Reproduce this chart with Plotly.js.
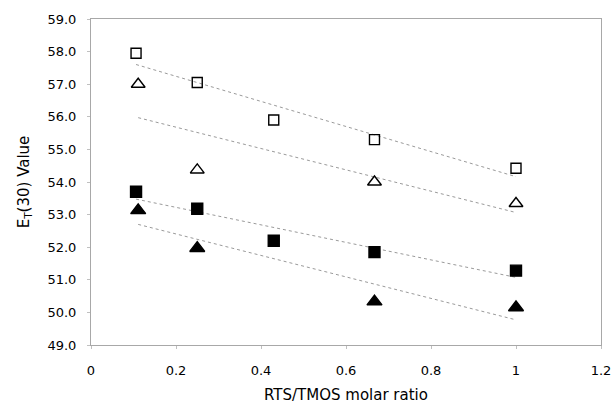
<!DOCTYPE html>
<html>
<head>
<meta charset="utf-8">
<script src="https://cdn.plot.ly/plotly-3.0.1.min.js"></script>
<style>html,body{margin:0;padding:0;background:#fff;}#chart{width:611px;height:406px;}</style>
</head>
<body>
<div id="chart"></div>
<script>
// Data
var xOpenSq = [0.106, 0.25, 0.43, 0.667, 1.0];
var yOpenSq = [57.95, 57.05, 55.9, 55.3, 54.42];
var xOpenTri = [0.111, 0.25, 0.667, 1.0];
var yOpenTri = [57.0, 54.37, 54.0, 53.34];
var xFillSq = [0.106, 0.25, 0.43, 0.667, 1.0];
var yFillSq = [53.7, 53.18, 52.2, 51.85, 51.28];
var xFillTri = [0.111, 0.25, 0.667, 1.0];
var yFillTri = [53.13, 51.97, 50.33, 50.15];
var xTickVals = [0, 0.2, 0.4, 0.6, 0.8, 1.0, 1.2];
var xTickText = ['0', '0.2', '0.4', '0.6', '0.8', '1', '1.2'];

// Linear least-squares trendline (as Excel's linear trendline)
function trend(xs, ys) {
  var n = xs.length, mx = 0, my = 0;
  for (var i = 0; i < n; i++) { mx += xs[i]; my += ys[i]; }
  mx /= n; my /= n;
  var sxx = 0, sxy = 0;
  for (var j = 0; j < n; j++) { sxx += (xs[j]-mx)*(xs[j]-mx); sxy += (xs[j]-mx)*(ys[j]-my); }
  var b = sxy / sxx, a = my - b*mx;
  var x0 = Math.min.apply(null, xs), x1 = Math.max.apply(null, xs);
  return {x: [x0, x1], y: [a + b*x0, a + b*x1]};
}

function trendTrace(xs, ys) {
  var t = trend(xs, ys);
  return {x: t.x, y: t.y, mode: 'lines', type: 'scatter', hoverinfo: 'skip',
          line: {color: '#9a9a9a', width: 1, dash: 'dot'}, showlegend: false};
}

function markTrace(xs, ys, symbol, size) {
  return {x: xs, y: ys, mode: 'markers', type: 'scatter', showlegend: false,
          marker: {symbol: symbol, size: size, color: '#000',
                   line: {color: '#000', width: 1.4}}};
}

var data = [
  trendTrace(xOpenSq, yOpenSq),
  trendTrace(xOpenTri, yOpenTri),
  trendTrace(xFillSq, yFillSq),
  trendTrace(xFillTri, yFillTri),
  markTrace(xOpenSq, yOpenSq, 'square-open', 10),
  markTrace(xOpenTri, yOpenTri, 'triangle-up-open', 12),
  markTrace(xFillSq, yFillSq, 'square', 11),
  markTrace(xFillTri, yFillTri, 'triangle-up', 13)
];

var layout = {
  width: 611, height: 406,
  margin: {l: 91, r: 10, t: 19, b: 61},
  paper_bgcolor: '#fff', plot_bgcolor: '#fff',
  font: {family: 'DejaVu Sans, Verdana, sans-serif', size: 13, color: '#000'},
  showlegend: false,
  xaxis: {
    range: [0, 1.2], tickvals: xTickVals, ticktext: xTickText,
    showgrid: false, zeroline: false,
    showline: true, linecolor: '#a8a8a8', linewidth: 1, mirror: true,
    ticks: 'outside', ticklen: 3, tickcolor: '#c0c0c0',
    ticklabelstandoff: 10, ticklabeloverflow: 'allow',
    tickfont: {size: 13},
    title: {text: 'RTS/TMOS molar ratio', font: {size: 15}, standoff: 12}
  },
  yaxis: {
    range: [49, 59], dtick: 1, tick0: 49, tickformat: '.1f',
    showgrid: false, zeroline: false,
    showline: true, linecolor: '#a8a8a8', linewidth: 1, mirror: true,
    ticks: 'outside', ticklen: 3, tickcolor: '#c0c0c0',
    ticklabelstandoff: 8,
    tickfont: {size: 13},
    title: {text: 'E<sub>T</sub>(30) Value', font: {size: 15}, standoff: 14}
  }
};

Plotly.newPlot('chart', data, layout, {displayModeBar: false, staticPlot: true});
</script>
</body>
</html>
